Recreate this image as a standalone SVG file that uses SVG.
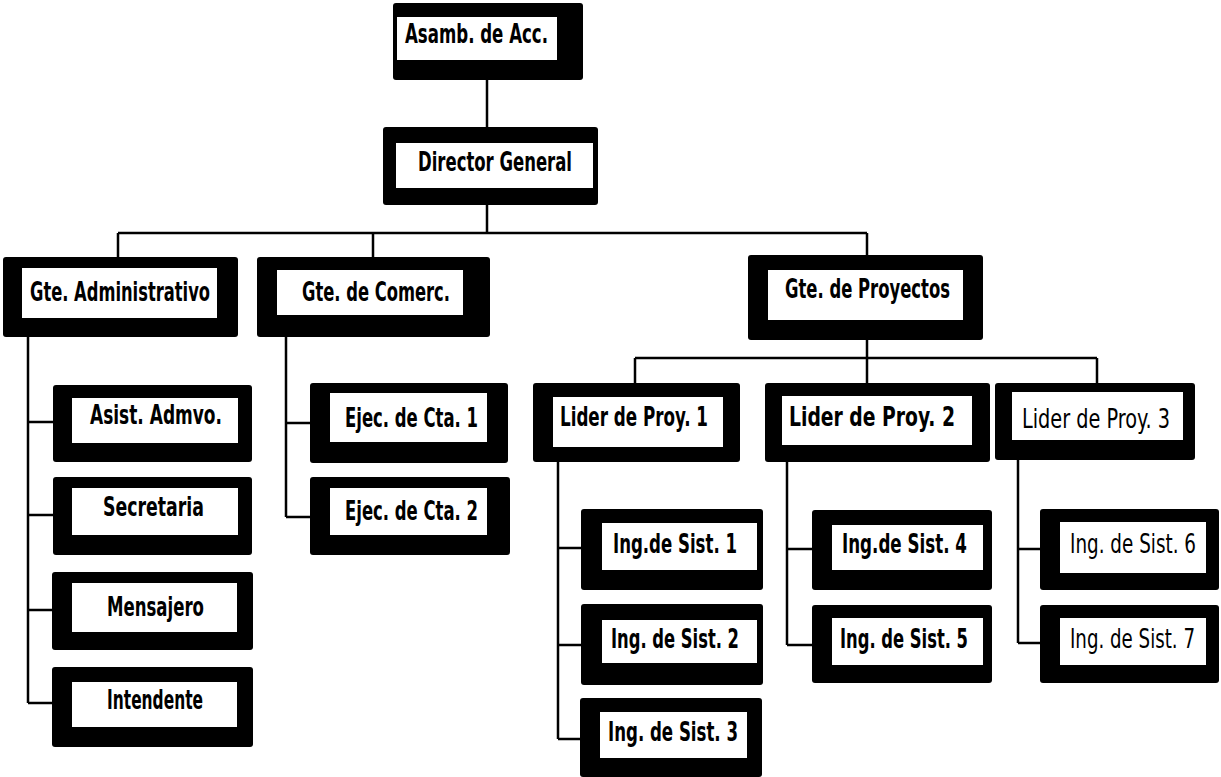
<svg xmlns="http://www.w3.org/2000/svg" width="1221" height="777" viewBox="0 0 1221 777">
<style>
.o{fill:#000}
.i{fill:#fff}
.t{font-family:"DejaVu Sans Condensed","Liberation Sans",sans-serif;font-weight:bold;font-size:26px;fill:#000}
.n{font-weight:normal}
.s{font-size:20px}
.c{fill:none;stroke:#000;stroke-width:2.5}
</style>
<rect width="1221" height="777" fill="#fff"/>
<g id="connectors" class="c">
<path d="M487 80V127M487 205V233M118 233H867M118 233V257M373 233V257M867 233V255"/>
<path d="M28 337V703M28 422H53M28 515H53M28 610H52M28 703H52"/>
<path d="M286 337V517M286 423H310M286 517H310"/>
<path d="M867 340V358M635 358H1097M635 358V383M867 358V383M1097 358V383"/>
<path d="M558 462V739M558 548H581M558 645H581M558 739H580"/>
<path d="M787 462V645M787 549H812M787 645H812"/>
<path d="M1018 460V643M1018 549H1040M1018 643H1040"/>
</g>
<g id="n-asamb"><rect class="o" x="393" y="3" width="190" height="77" rx="3"/><rect class="i" x="397" y="17" width="160" height="43"/><text class="t" x="405" y="43" textLength="143" lengthAdjust="spacingAndGlyphs">Asamb. de Acc.</text></g>
<g id="n-director"><rect class="o" x="383" y="127" width="215" height="78" rx="3"/><rect class="i" x="396" y="143" width="197" height="45"/><text class="t" x="418" y="171" textLength="154" lengthAdjust="spacingAndGlyphs">Director General</text></g>
<g id="n-gteadm"><rect class="o" x="3" y="257" width="235" height="80" rx="3"/><rect class="i" x="22" y="268" width="195" height="50"/><text class="t" x="30" y="301" textLength="180" lengthAdjust="spacingAndGlyphs">Gte. Administrativo</text></g>
<g id="n-gtecom"><rect class="o" x="257" y="257" width="233" height="80" rx="3"/><rect class="i" x="277" y="270" width="186" height="45"/><text class="t" x="302" y="301" textLength="148" lengthAdjust="spacingAndGlyphs">Gte. de Comerc.</text></g>
<g id="n-gteproy"><rect class="o" x="748" y="255" width="235" height="85" rx="3"/><rect class="i" x="768" y="270" width="195" height="50"/><text class="t" x="785" y="298" textLength="165" lengthAdjust="spacingAndGlyphs">Gte. de Proyectos</text></g>
<g id="n-asist"><rect class="o" x="53" y="385" width="199" height="77" rx="3"/><rect class="i" x="72" y="398" width="166" height="45"/><text class="t" x="90" y="424" textLength="132" lengthAdjust="spacingAndGlyphs">Asist. Admvo.</text></g>
<g id="n-secre"><rect class="o" x="53" y="477" width="199" height="78" rx="3"/><rect class="i" x="72" y="488" width="166" height="47"/><text class="t" x="103" y="516" textLength="101" lengthAdjust="spacingAndGlyphs">Secretaria</text></g>
<g id="n-mensa"><rect class="o" x="52" y="572" width="201" height="78" rx="3"/><rect class="i" x="72" y="583" width="165" height="49"/><text class="t" x="107" y="616" textLength="97" lengthAdjust="spacingAndGlyphs">Mensajero</text></g>
<g id="n-inten"><rect class="o" x="52" y="667" width="201" height="80" rx="3"/><rect class="i" x="72" y="682" width="165" height="45"/><text class="t" x="107" y="709" textLength="96" lengthAdjust="spacingAndGlyphs">Intendente</text></g>
<g id="n-ejec1"><rect class="o" x="310" y="383" width="198" height="80" rx="3"/><rect class="i" x="330" y="393" width="157" height="49"/><text class="t" x="345" y="427" textLength="133" lengthAdjust="spacingAndGlyphs">Ejec. de Cta. 1</text></g>
<g id="n-ejec2"><rect class="o" x="310" y="477" width="200" height="78" rx="3"/><rect class="i" x="330" y="488" width="157" height="47"/><text class="t" x="345" y="520" textLength="133" lengthAdjust="spacingAndGlyphs">Ejec. de Cta. 2</text></g>
<g id="n-lider1"><rect class="o" x="533" y="383" width="207" height="79" rx="3"/><rect class="i" x="553" y="397" width="170" height="50"/><text class="t" x="560" y="426" textLength="148" lengthAdjust="spacingAndGlyphs">Lider de Proy. 1</text></g>
<g id="n-lider2"><rect class="o" x="765" y="383" width="225" height="79" rx="3"/><rect class="i" x="782" y="396" width="190" height="49"/><text class="t" x="789" y="426" textLength="166" lengthAdjust="spacingAndGlyphs">Lider de Proy. 2</text></g>
<g id="n-lider3"><rect class="o" x="995" y="383" width="200" height="77" rx="3"/><rect class="i" x="1012" y="392" width="171" height="48"/><text class="t n" x="1022" y="428" textLength="148" lengthAdjust="spacingAndGlyphs">Lider de Proy. 3</text></g>
<g id="n-ing1"><rect class="o" x="581" y="509" width="182" height="81" rx="3"/><rect class="i" x="602" y="523" width="155" height="47"/><text class="t" x="613" y="553" textLength="124" lengthAdjust="spacingAndGlyphs">Ing.de Sist. 1</text></g>
<g id="n-ing2"><rect class="o" x="581" y="604" width="182" height="81" rx="3"/><rect class="i" x="602" y="620" width="155" height="43"/><text class="t" x="611" y="648" textLength="128" lengthAdjust="spacingAndGlyphs">Ing. de Sist. 2</text></g>
<g id="n-ing3"><rect class="o" x="580" y="698" width="182" height="79" rx="3"/><rect class="i" x="600" y="712" width="147" height="46"/><text class="t" x="608" y="741" textLength="130" lengthAdjust="spacingAndGlyphs">Ing. de Sist. 3</text></g>
<g id="n-ing4"><rect class="o" x="812" y="510" width="180" height="80" rx="3"/><rect class="i" x="832" y="525" width="151" height="45"/><text class="t" x="842" y="553" textLength="125" lengthAdjust="spacingAndGlyphs">Ing.de Sist. 4</text></g>
<g id="n-ing5"><rect class="o" x="812" y="605" width="180" height="78" rx="3"/><rect class="i" x="832" y="618" width="151" height="47"/><text class="t" x="840" y="648" textLength="128" lengthAdjust="spacingAndGlyphs">Ing. de Sist. 5</text></g>
<g id="n-ing6"><rect class="o" x="1040" y="509" width="179" height="81" rx="3"/><rect class="i" x="1060" y="522" width="146" height="51"/><text class="t n s" transform="translate(1070 553) scale(1 1.3)" x="0" y="0" textLength="126" lengthAdjust="spacingAndGlyphs">Ing. de Sist. 6</text></g>
<g id="n-ing7"><rect class="o" x="1040" y="605" width="179" height="78" rx="3"/><rect class="i" x="1060" y="618" width="146" height="47"/><text class="t n s" transform="translate(1070 648) scale(1 1.3)" x="0" y="0" textLength="125" lengthAdjust="spacingAndGlyphs">Ing. de Sist. 7</text></g>
</svg>
